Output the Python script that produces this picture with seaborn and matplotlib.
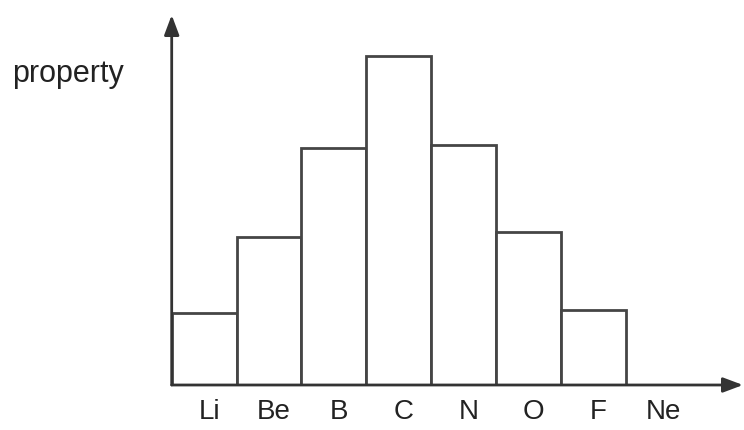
import seaborn as sns
import matplotlib.pyplot as plt
import matplotlib.transforms as mtransforms
import pandas as pd

elements = ['Li', 'Be', 'B', 'C', 'N', 'O', 'F', 'Ne']
values = [0.72, 1.48, 2.37, 3.29, 2.40, 1.53, 0.75, 0.0]

sns.set_style('white')
plt.rcParams['font.family'] = ['Liberation Sans', 'DejaVu Sans']

df = pd.DataFrame({'element': elements, 'value': values})

fig = plt.figure(figsize=(7.44, 4.30), dpi=100)
ax = fig.add_axes([171.7 / 744, 45 / 430, (743 - 171.7) / 744, 370 / 430])

sns.barplot(data=df, x='element', y='value', order=elements, width=1.0,
            color='white', edgecolor='#454545', linewidth=2.0, ax=ax)

ax.set_xlim(-0.5, 8.31)
ax.set_ylim(0, 3.70)
for s in ax.spines.values():
    s.set_visible(False)
ax.set_yticks([])
ax.set_xlabel('')
ax.set_ylabel('')
ax.set_xticks(range(len(elements)))
ax.set_xticklabels(elements)
ax.tick_params(axis='x', length=0, pad=10, labelsize=20, colors='#222222')
shift = mtransforms.ScaledTranslation(5 / 100, 0, fig.dpi_scale_trans)
for lab in ax.get_xticklabels():
    lab.set_transform(lab.get_transform() + shift)

# axis arrows
ap = dict(arrowstyle='-|>,head_length=1.2,head_width=0.45', color='#333333',
          lw=2.0, shrinkA=0, shrinkB=0)
ax.annotate('', xy=(0, 1), xytext=(0, 0), xycoords='axes fraction', arrowprops=ap)
ax.annotate('', xy=(1, 0), xytext=(0, 0), xycoords='axes fraction', arrowprops=ap)

fig.text(12 / 744, 1 - 74 / 430, 'property', fontsize=22, color='#222222',
         ha='left', va='center')

fig.savefig('out.png', dpi=100)
